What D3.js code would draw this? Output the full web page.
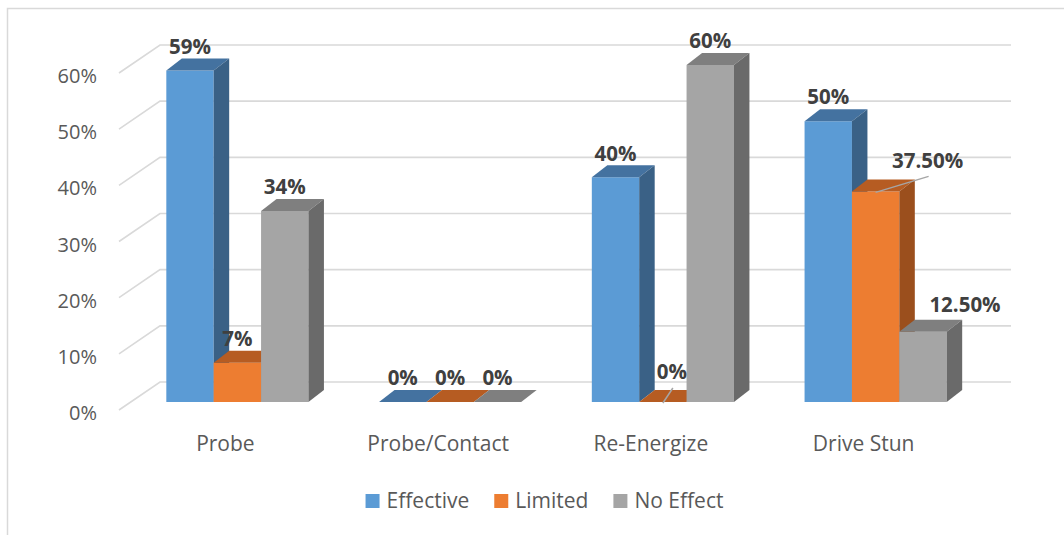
<!DOCTYPE html>
<html>
<head>
<meta charset="utf-8">
<script src="https://cdn.jsdelivr.net/npm/d3@7"></script>
<style>
  html, body { margin: 0; padding: 0; background: #fff; }
  svg { display: block; }
  text { font-family: "Open Sans", "Noto Sans", sans-serif; }
</style>
</head>
<body>
<svg id="chart" width="1064" height="535"></svg>
<script>
// ---- data ----
const categories = ["Probe", "Probe/Contact", "Re-Energize", "Drive Stun"];
const seriesNames = ["Effective", "Limited", "No Effect"];
const effective = [0.59, 0, 0.40, 0.50];
const limited   = [0.07, 0, 0, 0.375];
const noEffect  = [0.34, 0, 0.60, 0.125];
const labelText = {
  "Effective": ["59%", "0%", "40%", "50%"],
  "Limited":   ["7%", "0%", "0%", "37.50%"],
  "No Effect": ["34%", "0%", "60%", "12.50%"]
};
const yTicks = [0, 0.1, 0.2, 0.3, 0.4, 0.5, 0.6];
const yTickLabels = ["0%", "10%", "20%", "30%", "40%", "50%", "60%"];

const seriesValues = { "Effective": effective, "Limited": limited, "No Effect": noEffect };
const colors = {
  "Effective": { front: "#5B9BD5", top: "#4472A0", side: "#3A6186" },
  "Limited":   { front: "#ED7D31", top: "#B65C22", side: "#9B4F1D" },
  "No Effect": { front: "#A5A5A5", top: "#7F7F7F", side: "#6A6A6A" }
};

// ---- layout ----
const svg = d3.select("#chart");
const wall = { dx: 41, dy: -28 };      // full floor depth
const barOff = { dx: 12, dy: -8 };     // bar front offset from front plane
const barDepth = { dx: 15.5, dy: -12 };

const x = d3.scaleBand().domain(categories).range([119, 970])
  .paddingInner(0.332).paddingOuter(0.166);
const xs = d3.scaleBand().domain(seriesNames).range([0, x.bandwidth()]);
const y = d3.scaleLinear().domain([0, 0.6]).range([410, 73]);

// border
svg.append("rect").attr("x", 7.5).attr("y", 8.5).attr("width", 1080).attr("height", 540)
  .attr("fill", "none").attr("stroke", "#D9D9D9").attr("stroke-width", 1.5);

// gridlines: side wall diagonals + back wall horizontals
const grid = svg.append("g").attr("stroke", "#D9D9D9").attr("stroke-width", 1.6).attr("fill", "none");
yTicks.forEach(t => {
  const x0 = x.range()[0], y0 = y(t);
  grid.append("path").attr("d",
    `M${x0},${y0} L${x0 + wall.dx},${y0 + wall.dy} L${1011},${y0 + wall.dy}`);
});

// y tick labels
svg.append("g").selectAll("text").data(yTicks).join("text")
  .attr("x", 97).attr("y", d => y(d) + 3).attr("dy", "0.35em")
  .attr("text-anchor", "end").attr("font-size", 20).attr("fill", "#595959")
  .text((d, i) => yTickLabels[i]);

// category labels
svg.append("g").selectAll("text").data(categories).join("text")
  .attr("x", d => x.range()[0] + (x.step() * (categories.indexOf(d) + 0.5)))
  .attr("y", 451).attr("text-anchor", "middle").attr("font-size", 21).attr("fill", "#595959")
  .text(d => d);

// bars
const barsG = svg.append("g");
const barGeom = {};
categories.forEach((cat, ci) => {
  seriesNames.forEach(s => {
    const v = seriesValues[s][ci];
    const xl = x(cat) + xs(s) + barOff.dx;
    const xr = xl + xs.bandwidth();
    const yb = y(0) + barOff.dy;
    const yt = y(v) + barOff.dy;
    const c = colors[s];
    const g = barsG.append("g");
    g.append("path").attr("fill", c.front)
      .attr("d", `M${xl},${yb} L${xr},${yb} L${xr},${yt} L${xl},${yt} Z`);
    g.append("path").attr("fill", c.top)
      .attr("d", `M${xl},${yt} L${xr},${yt} L${xr + barDepth.dx},${yt + barDepth.dy} L${xl + barDepth.dx},${yt + barDepth.dy} Z`);
    g.append("path").attr("fill", c.side)
      .attr("d", `M${xr},${yb} L${xr + barDepth.dx},${yb + barDepth.dy} L${xr + barDepth.dx},${yt + barDepth.dy} L${xr},${yt} Z`);
    barGeom[cat + "|" + s] = { cx: (xl + xr) / 2, yt };
  });
});

// data labels (manual offsets where the original labels were moved)
const labelMoves = {
  "Re-Energize|Limited": { dx: 9, dy: -6, leader: true },
  "Drive Stun|Limited": { dx: 52, dy: -7, leader: true },
  "Drive Stun|No Effect": { dx: 42, dy: -3, leader: false }
};
const lab = svg.append("g");
categories.forEach((cat, ci) => {
  seriesNames.forEach(s => {
    const key = cat + "|" + s;
    const gm = barGeom[key];
    const mv = labelMoves[key] || { dx: 0, dy: 0 };
    const lx = gm.cx + mv.dx, ly = gm.yt - 24 + mv.dy;
    if (mv.leader) {
      lab.append("line").attr("x1", lx + 1).attr("y1", ly + 16).attr("x2", gm.cx).attr("y2", gm.yt + 1)
        .attr("stroke", "#A6A6A6").attr("stroke-width", 1.5);
    }
    lab.append("text").attr("x", lx).attr("y", ly).attr("dy", "0.35em")
      .attr("text-anchor", "middle").attr("font-size", 20.5).attr("font-weight", "bold")
      .attr("fill", "#404040").text(labelText[s][ci]);
  });
});

// legend
const legend = svg.append("g");
const items = [];
let cursor = 0;
seriesNames.forEach(s => {
  const g = legend.append("g");
  g.append("rect").attr("x", 0).attr("y", -7).attr("width", 14).attr("height", 14).attr("fill", colors[s].front);
  const t = g.append("text").attr("x", 21).attr("y", 0).attr("dy", "0.35em")
    .attr("font-size", 21).attr("fill", "#595959").text(s);
  const w = 21 + t.node().getComputedTextLength();
  items.push({ g, x: cursor });
  cursor += w + 25;
});
const totalW = cursor - 25;
const startX = 544.5 - totalW / 2;
items.forEach(it => it.g.attr("transform", `translate(${startX + it.x},501)`));
</script>
</body>
</html>
